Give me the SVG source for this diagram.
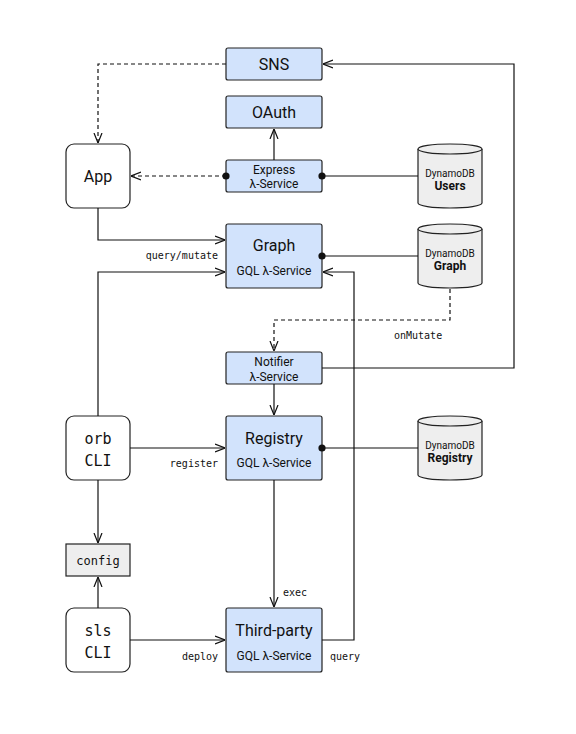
<svg xmlns="http://www.w3.org/2000/svg" width="576" height="734" viewBox="0 0 576 734">
  <style>
    .svc { fill: #d2e3fc; stroke: #222; stroke-width: 1.2; }
    .cli { fill: #fff; stroke: #222; stroke-width: 1.2; }
    .cfg { fill: #eeeeee; stroke: #222; stroke-width: 1.2; }
    .db { fill: #eeeeee; stroke: #222; stroke-width: 1.2; }
    .t { font-family: Roboto, "Liberation Sans", sans-serif; fill: #111; text-anchor: middle; }
    .big { font-size: 16px; }
    .sub { font-size: 12px; }
    .dbn { font-size: 10px; }
    .dbb { font-size: 12px; font-weight: bold; }
    .m { font-family: "DejaVu Sans Mono", "Liberation Mono", monospace; fill: #111; }
    .mbig { font-size: 15px; text-anchor: middle; }
    .lbl { font-size: 10px; }
    .edge { fill: none; stroke: #111; stroke-width: 1.2; }
    .dash { stroke-dasharray: 4 3; }
  </style>
  <defs>
    <marker id="arr" viewBox="0 0 10 10" refX="10" refY="5" markerWidth="10" markerHeight="10" markerUnits="userSpaceOnUse" orient="auto">
      <path d="M0,1 L10,5 L0,9" fill="none" stroke="#111" stroke-width="1.2"/>
    </marker>
    <marker id="dot" viewBox="0 0 12 12" refX="6" refY="6" markerWidth="12" markerHeight="12" markerUnits="userSpaceOnUse">
      <circle cx="6" cy="6" r="3.6" fill="#111"/>
    </marker>
  </defs>

  <rect width="576" height="734" fill="#fff"/>

  <!-- nodes -->
  <g id="sns">
    <rect class="svc" x="226" y="48" width="96" height="32" rx="2"/>
    <text class="t big" x="274" y="69.5">SNS</text>
  </g>
  <g id="oauth">
    <rect class="svc" x="226" y="96" width="96" height="32" rx="2"/>
    <text class="t big" x="274" y="117.5">OAuth</text>
  </g>
  <g id="express">
    <rect class="svc" x="226" y="160" width="96" height="32" rx="2"/>
    <text class="t sub" x="274" y="173.5">Express</text>
    <text class="t sub" x="274" y="188">λ-Service</text>
  </g>
  <g id="app">
    <rect class="cli" x="66" y="144" width="64" height="64" rx="8"/>
    <text class="t big" x="98" y="181.5">App</text>
  </g>
  <g id="users-db">
    <path class="db" d="M418,149 V203 A32,5 0 0 0 482,203 V149 A32,5 0 0 0 418,149 Z"/>
    <path class="db" d="M418,149 A32,5 0 0 0 482,149"/>
    <text class="t dbn" x="450" y="177">DynamoDB</text>
    <text class="t dbb" x="450" y="190">Users</text>
  </g>
  <g id="graph">
    <rect class="svc" x="226" y="224" width="96" height="64" rx="2"/>
    <text class="t big" x="274" y="250.5">Graph</text>
    <text class="t sub" x="274" y="275">GQL λ-Service</text>
  </g>
  <g id="graph-db">
    <path class="db" d="M418,229 V283 A32,5 0 0 0 482,283 V229 A32,5 0 0 0 418,229 Z"/>
    <path class="db" d="M418,229 A32,5 0 0 0 482,229"/>
    <text class="t dbn" x="450" y="257">DynamoDB</text>
    <text class="t dbb" x="450" y="270">Graph</text>
  </g>
  <g id="notifier">
    <rect class="svc" x="226" y="352" width="96" height="32" rx="2"/>
    <text class="t sub" x="274" y="366">Notifier</text>
    <text class="t sub" x="274" y="380.5">λ-Service</text>
  </g>
  <g id="orb">
    <rect class="cli" x="66" y="416" width="64" height="64" rx="8"/>
    <text class="m mbig" x="98" y="444">orb</text>
    <text class="m mbig" x="98" y="466">CLI</text>
  </g>
  <g id="registry">
    <rect class="svc" x="226" y="416" width="96" height="64" rx="2"/>
    <text class="t big" x="274" y="444">Registry</text>
    <text class="t sub" x="274" y="467">GQL λ-Service</text>
  </g>
  <g id="registry-db">
    <path class="db" d="M418,421 V475 A32,5 0 0 0 482,475 V421 A32,5 0 0 0 418,421 Z"/>
    <path class="db" d="M418,421 A32,5 0 0 0 482,421"/>
    <text class="t dbn" x="450" y="449">DynamoDB</text>
    <text class="t dbb" x="450" y="462">Registry</text>
  </g>
  <g id="config">
    <rect class="cfg" x="66" y="544" width="64" height="32"/>
    <text class="m" x="98" y="564.5" font-size="12" text-anchor="middle">config</text>
  </g>
  <g id="sls">
    <rect class="cli" x="66" y="608" width="64" height="64" rx="8"/>
    <text class="m mbig" x="98" y="636">sls</text>
    <text class="m mbig" x="98" y="658">CLI</text>
  </g>
  <g id="third-party">
    <rect class="svc" x="226" y="608" width="96" height="64" rx="2"/>
    <text class="t big" x="274" y="636">Third-party</text>
    <text class="t sub" x="274" y="660">GQL λ-Service</text>
  </g>

  <!-- connectors, drawn over the nodes so the source dots sit on top -->
  <g id="connectors">
    <!-- SNS notifies App -->
    <path class="edge dash" d="M226,64 H98 V143" marker-end="url(#arr)"/>
    <!-- Express to App -->
    <path class="edge dash" d="M226,176 H131" marker-start="url(#dot)" marker-end="url(#arr)"/>
    <!-- Express to OAuth -->
    <path class="edge" d="M274,160 V129" marker-end="url(#arr)"/>
    <!-- Express to Users table -->
    <path class="edge" d="M322,176 H418" marker-start="url(#dot)"/>
    <!-- App to Graph -->
    <path class="edge" d="M98,208 V240 H225" marker-end="url(#arr)"/>
    <!-- orb CLI to Graph -->
    <path class="edge" d="M98,416 V272 H225" marker-end="url(#arr)"/>
    <!-- Graph to Graph table -->
    <path class="edge" d="M322,256 H418" marker-start="url(#dot)"/>
    <!-- Graph table stream to Notifier -->
    <path class="edge dash" d="M450,289 V320 H274 V351" marker-end="url(#arr)"/>
    <!-- Notifier to SNS -->
    <path class="edge" d="M322,368 H514 V64 H323" marker-end="url(#arr)"/>
    <!-- Notifier to Registry -->
    <path class="edge" d="M274,384 V415" marker-end="url(#arr)"/>
    <!-- orb CLI to Registry -->
    <path class="edge" d="M130,448 H225" marker-end="url(#arr)"/>
    <!-- Registry to Registry table -->
    <path class="edge" d="M322,448 H418" marker-start="url(#dot)"/>
    <!-- orb CLI to config -->
    <path class="edge" d="M98,480 V543" marker-end="url(#arr)"/>
    <!-- sls CLI to config -->
    <path class="edge" d="M98,608 V577" marker-end="url(#arr)"/>
    <!-- Registry exec Third-party -->
    <path class="edge" d="M274,480 V607" marker-end="url(#arr)"/>
    <!-- sls CLI deploys Third-party -->
    <path class="edge" d="M130,640 H225" marker-end="url(#arr)"/>
    <!-- Third-party queries Graph -->
    <path class="edge" d="M322,640 H354 V272 H323" marker-end="url(#arr)"/>

    <text class="m lbl" x="218" y="259" text-anchor="end">query/mutate</text>
    <text class="m lbl" x="394" y="339">onMutate</text>
    <text class="m lbl" x="218" y="467" text-anchor="end">register</text>
    <text class="m lbl" x="283" y="596">exec</text>
    <text class="m lbl" x="218" y="660" text-anchor="end">deploy</text>
    <text class="m lbl" x="330" y="660">query</text>
  </g>
</svg>
